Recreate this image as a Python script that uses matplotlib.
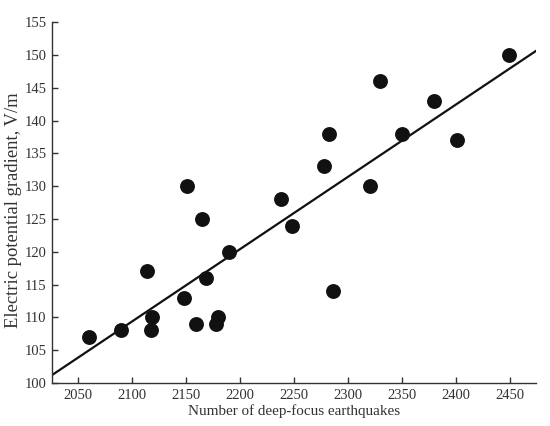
import numpy as np
import matplotlib.pyplot as plt

# deep-focus earthquake counts vs. electric potential gradient
quakes = [2060, 2090, 2114, 2118, 2119, 2148, 2151, 2159, 2165, 2169, 2178, 2180,
          2190, 2238, 2248, 2286, 2278, 2282, 2320, 2330, 2350, 2380, 2401, 2449]
gradient = [107, 108, 117, 108, 110, 113, 130, 109, 125, 116, 109, 110,
            120, 128, 124, 114, 133, 138, 130, 146, 138, 143, 137, 150]

# fitted trend line
fit_slope = 0.1103
fit_intercept = 101.2 - 0.1103 * 2026

plt.rcParams['font.family'] = ['Liberation Serif', 'DejaVu Serif']

fig = plt.figure(figsize=(5.5, 4.26), dpi=100)
ax = fig.add_axes([0.0945, 0.101, 0.88, 0.847])

ax.scatter(quakes, gradient, s=115, color='#111111', zorder=3, linewidths=0)

x_line = np.array([2026, 2474])
ax.plot(x_line, fit_slope * x_line + fit_intercept, color='#111111', lw=1.6, zorder=2)

ax.set_xlim(2026, 2474)
ax.set_ylim(100, 155)
ax.set_xticks(np.arange(2050, 2451, 50))
ax.set_yticks(np.arange(100, 156, 5))

for side in ['top', 'right']:
    ax.spines[side].set_visible(False)
for side in ['left', 'bottom']:
    ax.spines[side].set_color('#333333')
    ax.spines[side].set_linewidth(1.0)

ax.tick_params(direction='in', length=4, width=1.0, color='#333333',
               labelsize=10.5, labelcolor='#333333', pad=4)

ax.set_xlabel('Number of deep-focus earthquakes', fontsize=10.9, color='#333333', labelpad=2)
ax.set_ylabel('Electric potential gradient, V/m', fontsize=13.4, color='#333333')
ax.yaxis.set_label_coords(-0.062, 0.479)

fig.savefig('out.png', dpi=100)
